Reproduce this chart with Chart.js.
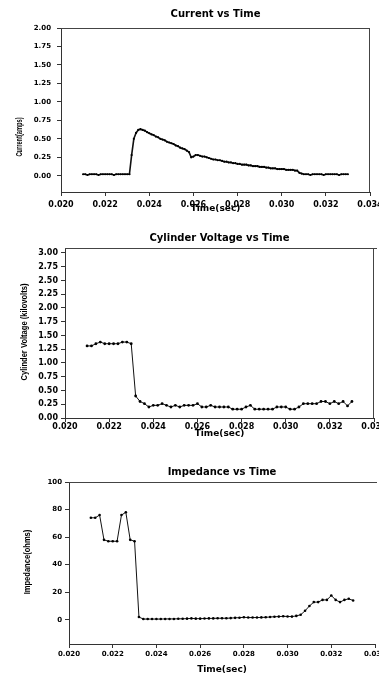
<!DOCTYPE html>
<html>
<head>
<meta charset="utf-8">
<script src="https://cdn.jsdelivr.net/npm/chart.js@4.4.1/dist/chart.umd.min.js"></script>
<style>
    html, body { margin: 0; padding: 0; background: #fff; }
    .panel { position: absolute; left: 0; width: 379px; }
</style>
</head>
<body>
<div class="panel" style="top:0;height:220px"><canvas id="chart-current"></canvas></div>
<div class="panel" style="top:220px;height:220px"><canvas id="chart-voltage"></canvas></div>
<div class="panel" style="top:440px;height:235px"><canvas id="chart-impedance"></canvas></div>
<script>
// Tick labels
const timeTicks = [0.020, 0.022, 0.024, 0.026, 0.028, 0.030, 0.032, 0.034];
const currentTicks = [0, 0.25, 0.5, 0.75, 1.0, 1.25, 1.5, 1.75, 2.0];
const voltageTicks = [0, 0.25, 0.5, 0.75, 1.0, 1.25, 1.5, 1.75, 2.0, 2.25, 2.5, 2.75, 3.0];
const impedanceTicks = [0, 20, 40, 60, 80, 100];

// Current samples (sec / amps)
const currentTime = [
    0.0210, 0.0211, 0.0212, 0.0213, 0.0214, 0.0215, 0.0216, 0.0217, 0.0218, 0.0219,
    0.0220, 0.0221, 0.0222, 0.0223, 0.0224, 0.0225, 0.0226, 0.0227, 0.0228, 0.0229,
    0.0230, 0.0231, 0.0232, 0.0233, 0.0234, 0.0235, 0.0236, 0.0237, 0.0238, 0.0239,
    0.0240, 0.0241, 0.0242, 0.0243, 0.0244, 0.0245, 0.0246, 0.0247, 0.0248, 0.0249,
    0.0250, 0.0251, 0.0252, 0.0253, 0.0254, 0.0255, 0.0256, 0.0257, 0.0258, 0.0259,
    0.0260, 0.0261, 0.0262, 0.0263, 0.0264, 0.0265, 0.0266, 0.0267, 0.0268, 0.0269,
    0.0270, 0.0271, 0.0272, 0.0273, 0.0274, 0.0275, 0.0276, 0.0277, 0.0278, 0.0279,
    0.0280, 0.0281, 0.0282, 0.0283, 0.0284, 0.0285, 0.0286, 0.0287, 0.0288, 0.0289,
    0.0290, 0.0291, 0.0292, 0.0293, 0.0294, 0.0295, 0.0296, 0.0297, 0.0298, 0.0299,
    0.0300, 0.0301, 0.0302, 0.0303, 0.0304, 0.0305, 0.0306, 0.0307, 0.0308, 0.0309,
    0.0310, 0.0311, 0.0312, 0.0313, 0.0314, 0.0315, 0.0316, 0.0317, 0.0318, 0.0319,
    0.0320, 0.0321, 0.0322, 0.0323, 0.0324, 0.0325, 0.0326, 0.0327, 0.0328, 0.0329,
    0.0330,
];
const currentAmps = [
    0.02, 0.02, 0.01, 0.02, 0.02, 0.02, 0.02, 0.01, 0.02, 0.02,
    0.02, 0.02, 0.02, 0.02, 0.01, 0.02, 0.02, 0.02, 0.02, 0.02,
    0.02, 0.02, 0.28, 0.50, 0.58, 0.62, 0.63, 0.62, 0.61, 0.59,
    0.575, 0.56, 0.55, 0.53, 0.52, 0.50, 0.49, 0.48, 0.46, 0.45,
    0.44, 0.43, 0.41, 0.40, 0.38, 0.37, 0.36, 0.34, 0.32, 0.25,
    0.26, 0.28, 0.28, 0.27, 0.26, 0.26, 0.25, 0.24, 0.23, 0.22,
    0.22, 0.21, 0.21, 0.20, 0.19, 0.19, 0.18, 0.18, 0.17, 0.17,
    0.16, 0.16, 0.15, 0.15, 0.15, 0.14, 0.14, 0.13, 0.13, 0.13,
    0.12, 0.12, 0.12, 0.11, 0.11, 0.10, 0.10, 0.10, 0.09, 0.09,
    0.09, 0.09, 0.08, 0.08, 0.08, 0.08, 0.07, 0.07, 0.04, 0.03,
    0.02, 0.02, 0.02, 0.01, 0.02, 0.02, 0.02, 0.02, 0.02, 0.01,
    0.02, 0.02, 0.02, 0.02, 0.02, 0.02, 0.01, 0.02, 0.02, 0.02,
    0.02,
];

// Voltage / impedance samples share the same time base
const sampleTime = [
    0.0210, 0.0212, 0.0214, 0.0216, 0.0218, 0.0220, 0.0222, 0.0224, 0.0226, 0.0228,
    0.0230, 0.0232, 0.0234, 0.0236, 0.0238, 0.0240, 0.0242, 0.0244, 0.0246, 0.0248,
    0.0250, 0.0252, 0.0254, 0.0256, 0.0258, 0.0260, 0.0262, 0.0264, 0.0266, 0.0268,
    0.0270, 0.0272, 0.0274, 0.0276, 0.0278, 0.0280, 0.0282, 0.0284, 0.0286, 0.0288,
    0.0290, 0.0292, 0.0294, 0.0296, 0.0298, 0.0300, 0.0302, 0.0304, 0.0306, 0.0308,
    0.0310, 0.0312, 0.0314, 0.0316, 0.0318, 0.0320, 0.0322, 0.0324, 0.0326, 0.0328,
    0.0330,
];
const voltageKv = [
    1.31, 1.31, 1.35, 1.38, 1.35, 1.35, 1.35, 1.35, 1.38, 1.38,
    1.35, 0.40, 0.30, 0.26, 0.20, 0.23, 0.23, 0.26, 0.23, 0.20,
    0.23, 0.20, 0.23, 0.23, 0.23, 0.26, 0.20, 0.20, 0.23, 0.20,
    0.20, 0.20, 0.20, 0.16, 0.16, 0.16, 0.20, 0.23, 0.16, 0.16,
    0.16, 0.16, 0.16, 0.20, 0.20, 0.20, 0.16, 0.16, 0.20, 0.26,
    0.26, 0.26, 0.26, 0.30, 0.30, 0.26, 0.30, 0.26, 0.30, 0.22,
    0.30,
];
const impedanceOhms = [
    74, 74, 76, 58, 57, 57, 57, 76, 78, 58,
    57, 2, 0.5, 0.5, 0.5, 0.5, 0.5, 0.6, 0.6, 0.6,
    0.7, 0.7, 0.8, 1.0, 0.8, 0.8, 0.9, 1.0, 1.0, 1.1,
    1.1, 1.1, 1.2, 1.4, 1.5, 1.8, 1.6, 1.6, 1.6, 1.7,
    1.8, 2.0, 2.2, 2.3, 2.5, 2.4, 2.3, 2.8, 3.6, 6.5,
    10, 12.8, 12.8, 14.4, 14.4, 17.6, 14.4, 12.8, 14.4, 15.2,
    14,
];

const FONT = "DejaVu Sans";
const SIDE_FONT = "'Liberation Sans', Arial, sans-serif";

// rotated y title, squeezed along its length like the original narrow face
const sideTitle = {
    id: "sideTitle",
    afterDraw(chart, args, opts) {
        const ctx = chart.ctx;
        ctx.save();
        ctx.translate(opts.x, opts.y);
        ctx.rotate(-Math.PI / 2);
        ctx.scale(opts.squeeze, 1);
        ctx.font = opts.font;
        ctx.fillStyle = "#000";
        ctx.textAlign = "center";
        ctx.textBaseline = "middle";
        ctx.fillText(opts.text, 0, 0);
        ctx.restore();
    },
};

// top / right lines of the plot box
const frame = {
    id: "frame",
    afterDraw(chart, args, opts) {
        const { left, right, top, bottom } = chart.chartArea;
        const ctx = chart.ctx;
        ctx.save();
        ctx.strokeStyle = "#444";
        ctx.lineWidth = 1;
        ctx.beginPath();
        if (opts.top) {
            ctx.moveTo(left, Math.round(top) + 0.5);
            ctx.lineTo(right + (opts.topExtra || 0), Math.round(top) + 0.5);
        }
        if (opts.right) {
            ctx.moveTo(Math.round(right) - 0.5, top);
            ctx.lineTo(Math.round(right) - 0.5, bottom);
        }
        ctx.stroke();
        ctx.restore();
    },
};

function makeChart(id, s) {
    const ctx = document.getElementById(id).getContext("2d");
    return new Chart(ctx, {
        type: "line",
        data: {
            datasets: [
                {
                    data: s.x.map((t, i) => ({ x: t, y: s.y[i] })),
                    borderColor: "#111",
                    borderWidth: s.lineWidth,
                    pointRadius: s.pointRadius,
                    pointBackgroundColor: "#000",
                    pointBorderWidth: 0,
                    tension: 0,
                    fill: false,
                },
            ],
        },
        plugins: [sideTitle, frame],
        options: {
            responsive: true,
            maintainAspectRatio: false,
            animation: false,
            layout: { padding: { left: 0, right: s.padRight, top: 0, bottom: 0 } },
            plugins: {
                legend: { display: false },
                tooltip: { enabled: false },
                title: {
                    display: true,
                    text: s.title,
                    fullSize: false,
                    color: "#000",
                    font: { family: FONT, weight: "bold", size: 10 },
                    padding: { top: s.titleTop, bottom: s.titleBottom },
                },
                sideTitle: s.yTitle,
                frame: s.frame,
            },
            scales: {
                x: {
                    type: "linear",
                    min: 0.020,
                    max: 0.034,
                    afterBuildTicks: (sc) => {
                        sc.ticks = timeTicks.map((v) => ({ value: v }));
                    },
                    afterFit: (sc) => {
                        sc.height = s.xHeight;
                        sc.paddingLeft = 0;
                        sc.paddingRight = 0;
                    },
                    border: { display: true, color: "#333", width: 1 },
                    grid: { display: true, drawOnChartArea: false, drawTicks: true, tickLength: 4, color: "#333" },
                    ticks: {
                        autoSkip: false,
                        maxRotation: 0,
                        padding: s.xTickPad,
                        color: "#000",
                        font: { family: FONT, weight: "bold", size: s.xTickSize },
                        callback: (v) => v.toFixed(3),
                    },
                    title: {
                        display: true,
                        text: "Time(sec)",
                        color: "#000",
                        font: { family: FONT, weight: "bold", size: 9 },
                        padding: { top: 0, bottom: s.xTitlePad },
                    },
                },
                y: {
                    type: "linear",
                    min: s.yMin,
                    max: s.yMax,
                    afterBuildTicks: (sc) => {
                        sc.ticks = s.yTicks.map((v) => ({ value: v }));
                    },
                    afterFit: (sc) => {
                        sc.width = s.yWidth;
                        sc.paddingTop = 0;
                        sc.paddingBottom = 0;
                    },
                    border: { display: true, color: "#333", width: 1 },
                    grid: { display: true, drawOnChartArea: false, drawTicks: true, tickLength: 4, color: "#333" },
                    ticks: {
                        autoSkip: false,
                        padding: s.yTickPad,
                        color: "#000",
                        font: { family: FONT, weight: "bold", size: s.yTickSize },
                        callback: s.yFormat,
                    },
                },
            },
        },
    });
}

makeChart("chart-current", {
    title: "Current vs Time",
    x: currentTime,
    y: currentAmps,
    lineWidth: 1.6,
    pointRadius: 1.1,
    padRight: 9,
    titleTop: 8,
    titleBottom: 8,
    xHeight: 28,
    xTickPad: 4,
    xTickSize: 8,
    xTitlePad: 6,
    yMin: -0.22,
    yMax: 2.0,
    yTicks: currentTicks,
    yWidth: 61,
    yTickPad: 6,
    yTickSize: 7,
    yFormat: (v) => v.toFixed(2),
    yTitle: { text: "Current(amps)", x: 20, y: 137, font: "bold 9px " + SIDE_FONT, squeeze: 0.63 },
    frame: { top: true, right: true },
});

makeChart("chart-voltage", {
    title: "Cylinder Voltage vs Time",
    x: sampleTime,
    y: voltageKv,
    lineWidth: 1,
    pointRadius: 1.4,
    padRight: 5,
    titleTop: 12,
    titleBottom: 4,
    xHeight: 22,
    xTickPad: 0,
    xTickSize: 8,
    xTitlePad: 1,
    yMin: 0,
    yMax: 3.09,
    yTicks: voltageTicks,
    yWidth: 65,
    yTickPad: 3,
    yTickSize: 8,
    yFormat: (v) => v.toFixed(2),
    yTitle: { text: "Cylinder Voltage (kilovolts)", x: 25, y: 112, font: "bold 9px " + SIDE_FONT, squeeze: 0.84 },
    frame: { top: true, right: true, topExtra: 3 },
});

makeChart("chart-impedance", {
    title: "Impedance vs Time",
    x: sampleTime,
    y: impedanceOhms,
    lineWidth: 1,
    pointRadius: 1.3,
    padRight: 1,
    titleTop: 26,
    titleBottom: 4,
    xHeight: 31,
    xTickPad: 2,
    xTickSize: 7,
    xTitlePad: 0,
    yMin: -17.6,
    yMax: 100,
    yTicks: impedanceTicks,
    yWidth: 69,
    yTickPad: 3,
    yTickSize: 7,
    yFormat: (v) => String(v),
    yTitle: { text: "Impedance(ohms)", x: 28, y: 122, font: "bold 9px " + SIDE_FONT, squeeze: 0.84 },
    frame: { top: true, right: false, topExtra: 2 },
});
</script>
</body>
</html>
